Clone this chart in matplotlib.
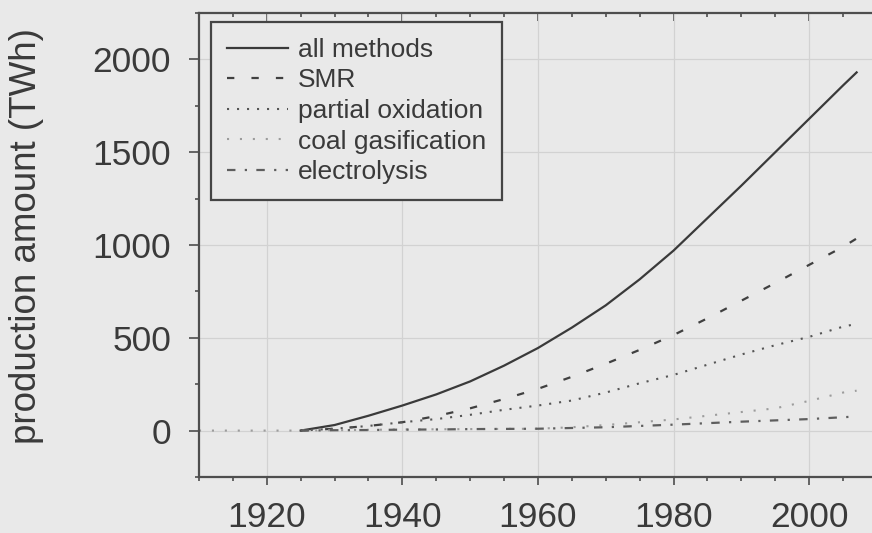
import numpy as np
import matplotlib.pyplot as plt
from matplotlib.ticker import MultipleLocator

# hydrogen production by method, TWh
years = [1910, 1915, 1920, 1925, 1930, 1935, 1940, 1945, 1950, 1955, 1960,
         1965, 1970, 1975, 1980, 1985, 1990, 1995, 2000, 2005, 2007]
nan = np.nan
all_methods = [nan, nan, nan, 0, 30, 80, 135, 195, 265, 350, 445,
               555, 675, 815, 970, 1145, 1320, 1500, 1680, 1860, 1930]
smr = [nan, nan, nan, 0, 10, 25, 45, 78, 120, 170, 225,
       290, 360, 435, 515, 605, 700, 795, 893, 990, 1035]
partial_oxidation = [nan, nan, nan, 0, 10, 25, 45, 62, 85, 112, 135,
                     162, 205, 255, 300, 355, 410, 460, 505, 560, 575]
coal_gasification = [0, 0, 0, 0, 2, 4, 6, 7, 8, 9, 10,
                     18, 30, 45, 60, 80, 100, 120, 160, 205, 215]
electrolysis = [nan, nan, nan, 0, 2, 3, 5, 6, 8, 9, 10,
                14, 18, 25, 32, 40, 48, 55, 62, 72, 76]

bg = '#e9e9e9'
ink = '#3a3a3a'

plt.rcParams['font.family'] = ['Liberation Sans', 'DejaVu Sans']

fig = plt.figure(figsize=(8.72, 5.33), dpi=100, facecolor=bg)
ax = fig.add_axes([0.2282, 0.1051, 0.7775, 0.8705], facecolor=bg)

ax.plot(years, all_methods, color='#3a3a3a', lw=1.6, label='all methods')
ax.plot(years, smr, color='#404040', lw=1.6, linestyle=(0, (3.3, 7.7)), label='SMR')
ax.plot(years, partial_oxidation, color='#555555', lw=1.5, linestyle=(0, (1, 3.8)),
        label='partial oxidation')
ax.plot(years, coal_gasification, color='#9c9c9c', lw=1.5, linestyle=(0, (1, 5.2)),
        label='coal gasification')
ax.plot(years, electrolysis, color='#5e5e5e', lw=1.6, linestyle=(0, (3.8, 4.2, 1, 4.2)),
        label='electrolysis')

ax.set_xlim(1910, 2010)
ax.set_ylim(-250, 2250)
ax.xaxis.set_major_locator(MultipleLocator(20))
ax.xaxis.set_minor_locator(MultipleLocator(5))
ax.yaxis.set_major_locator(MultipleLocator(500))
ax.yaxis.set_minor_locator(MultipleLocator(250))

ax.grid(True, which='major', color='#d2d2d2', lw=0.9)
ax.set_axisbelow(True)

for side in ['left', 'bottom', 'top', 'right']:
    ax.spines[side].set_color('#4e4e4e')
    ax.spines[side].set_linewidth(1.6)

ax.tick_params(axis='both', which='both', colors='#4e4e4e', width=1.2,
               labelcolor=ink, labelsize=25.5)
ax.tick_params(axis='x', which='major', length=6, direction='out', pad=11)
ax.tick_params(axis='x', which='minor', length=3, direction='out')
ax.tick_params(axis='y', which='major', length=7, direction='out', pad=13)
ax.tick_params(axis='y', which='minor', length=3, direction='out')

# ticks along the top edge point inward
top = ax.secondary_xaxis('top')
top.set_xticks(ax.get_xticks())
top.xaxis.set_minor_locator(MultipleLocator(5))
top.tick_params(which='major', direction='in', length=6, width=1.2, colors='#4e4e4e',
                labeltop=False)
top.tick_params(which='minor', direction='in', length=3, width=1.2, colors='#4e4e4e')
top.spines['top'].set_visible(False)

ax.set_ylabel('production amount (TWh)', fontsize=26.5, color=ink)
ax.yaxis.set_label_coords(-0.228, 0.52)

leg = ax.legend(loc='upper left', bbox_to_anchor=(0.0177, 0.9806), borderaxespad=0,
                fontsize=19, handlelength=2.3, labelspacing=0.25, fancybox=False,
                framealpha=1, facecolor=bg, edgecolor='#454545', borderpad=0.6,
                handletextpad=0.4)
leg.get_frame().set_linewidth(1.6)
for t in leg.get_texts():
    t.set_color(ink)

fig.savefig('out.png', dpi=100, facecolor=bg)
